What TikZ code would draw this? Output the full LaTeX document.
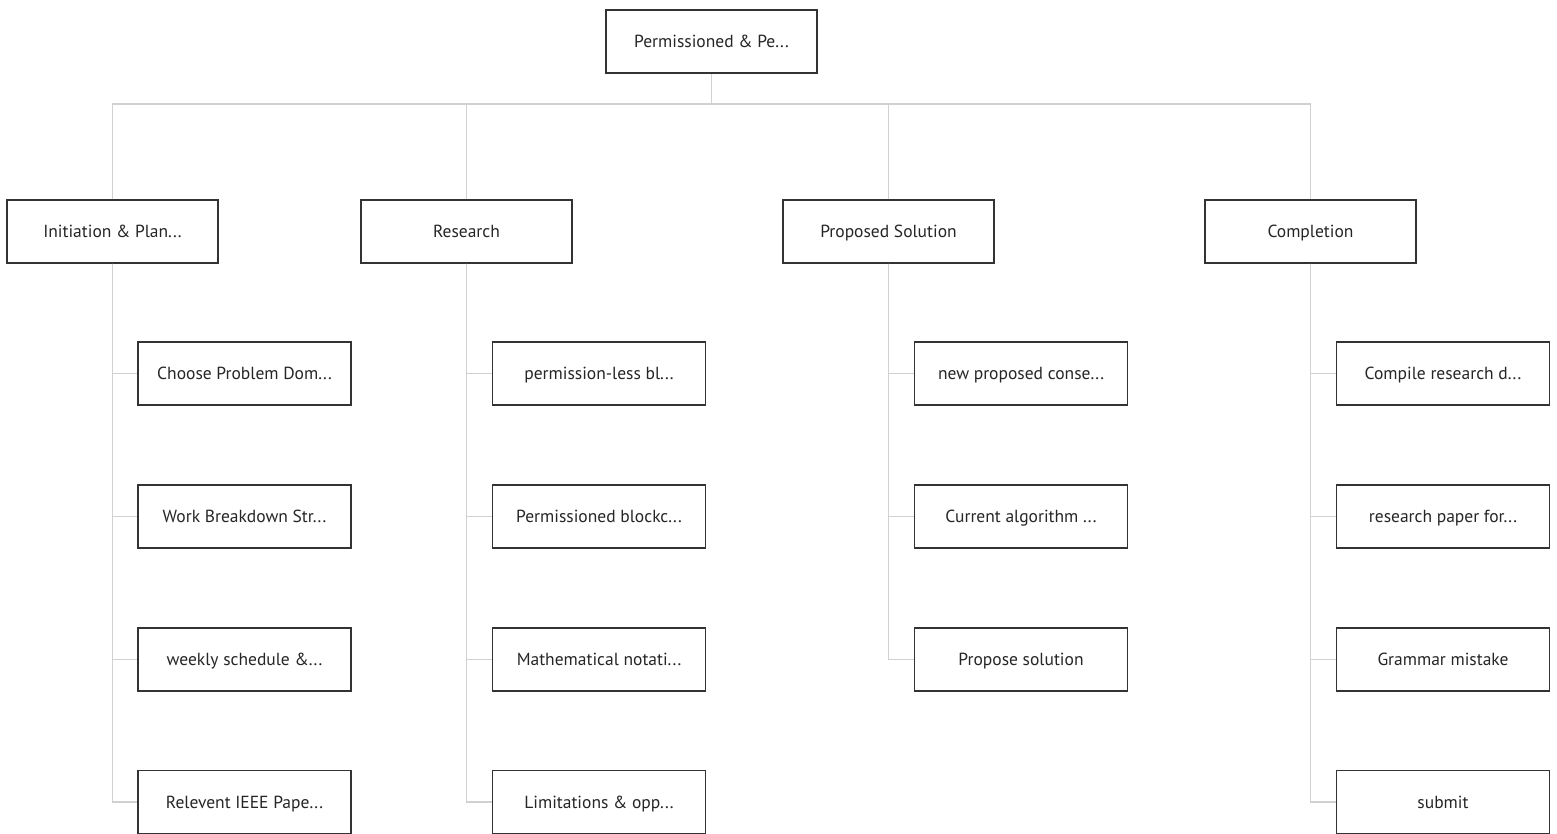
\documentclass[tikz,border=0pt]{standalone}
\usepackage{fontspec}
\setmainfont{PT Sans}
\usetikzlibrary{positioning}
\tikzset{
    wbsbox/.style = {rectangle, draw=black!80, line width=1.4pt, fill=white, minimum width=211pt, minimum height=63pt, text=black!85, text height=14pt, text depth=1.5pt, font=\fontsize{17.5}{19}\selectfont},
    taskbox/.style = {wbsbox, minimum width=213pt},
    link/.style = {draw=black!18, line width=1.6pt},
}

\begin{document}
\begin{tikzpicture}[x=1pt,y=-1pt]
\useasboundingbox (0,0) rectangle (1557,834);
%
\node[wbsbox] at (711.5, 41.5) (root) {Permissioned \& Pe...};
\coordinate (bus) at (711.5, 104);
%
\node[wbsbox] at (112.5, 231.5) (init) {Initiation \& Plan...};
\node[wbsbox] at (466.5, 231.5) (res) {Research};
\node[wbsbox] at (888.5, 231.5) (prop) {Proposed Solution};
\node[wbsbox] at (1310.5, 231.5) (comp) {Completion};
%
\node[taskbox] at (244.5, 373.5) (init1) {Choose Problem Dom...};
\node[taskbox] at (244.5, 516.5) (init2) {Work Breakdown Str...};
\node[taskbox] at (244.5, 659.5) (init3) {weekly schedule \&...};
\node[taskbox] at (244.5, 802) (init4) {Relevent IEEE Pape...};
%
\node[taskbox] at (599, 373.5) (res1) {permission-less bl...};
\node[taskbox] at (599, 516.5) (res2) {Permissioned blockc...};
\node[taskbox] at (599, 659.5) (res3) {Mathematical notati...};
\node[taskbox] at (599, 802) (res4) {Limitations \& opp...};
%
\node[taskbox] at (1021, 373.5) (prop1) {new proposed conse...};
\node[taskbox] at (1021, 516.5) (prop2) {Current algorithm ...};
\node[taskbox] at (1021, 659.5) (prop3) {Propose solution};
%
\node[taskbox] at (1443, 373.5) (comp1) {Compile research d...};
\node[taskbox] at (1443, 516.5) (comp2) {research paper for...};
\node[taskbox] at (1443, 659.5) (comp3) {Grammar mistake};
\node[taskbox] at (1443, 802) (comp4) {submit};
%
\draw[link] (root.south) -- (bus);
\draw[link] (init.north) |- (bus) -| (comp.north);
\draw[link] (res.north) -- (res.north |- bus);
\draw[link] (prop.north) -- (prop.north |- bus);
\foreach \c in {init1,init2,init3,init4} \draw[link] (init.south) |- (\c.west);
\foreach \c in {res1,res2,res3,res4} \draw[link] (res.south) |- (\c.west);
\foreach \c in {prop1,prop2,prop3} \draw[link] (prop.south) |- (\c.west);
\foreach \c in {comp1,comp2,comp3,comp4} \draw[link] (comp.south) |- (\c.west);

\end{tikzpicture}
\end{document}
